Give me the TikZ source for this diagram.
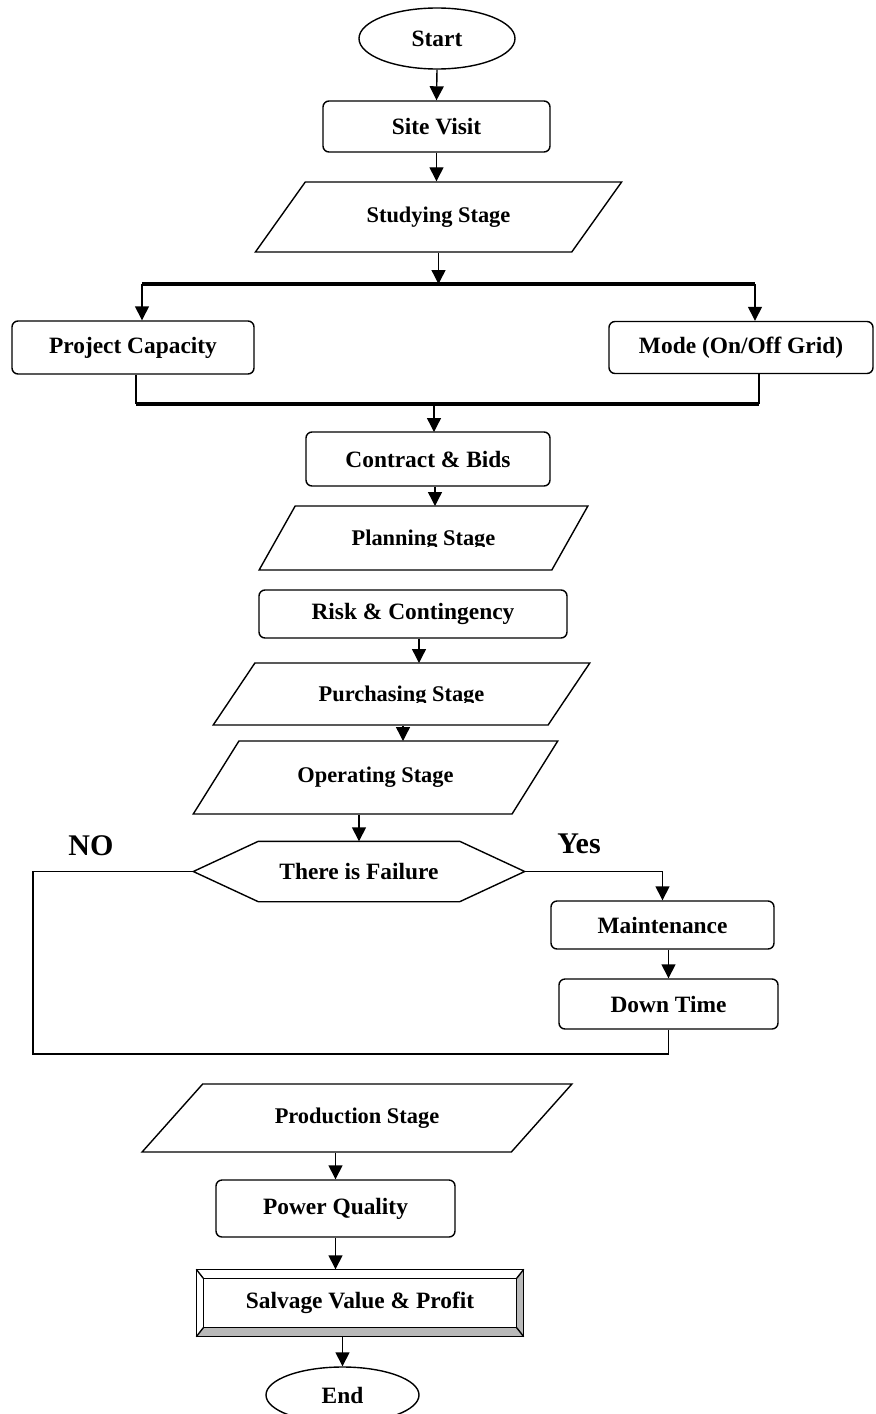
\documentclass[tikz,border=0pt]{standalone}
\usepackage{fontspec}
\setmainfont{Liberation Serif}
\usetikzlibrary{shapes.geometric,arrows.meta,calc}

\begin{document}
\begin{tikzpicture}[x=0.5pt, y=-0.5pt, line width=0.7pt,
  every node/.style={align=center, font=\bfseries\fontsize{11.2}{13}\selectfont}]
\tikzset{
  terminal/.style={ellipse, draw, minimum width=78pt, minimum height=30.5pt, inner sep=0pt,
    font=\bfseries\fontsize{11.7}{14}\selectfont},
  procbox/.style={rectangle, draw, rounded corners=3pt, inner sep=0pt,
    font=\bfseries\fontsize{11.7}{14}\selectfont},
  stagebox/.style={trapezium, draw, trapezium stretches=true, inner sep=0pt},
  decisionbox/.style={rectangle, inner sep=0pt, font=\bfseries\fontsize{11.7}{14}\selectfont},
  endbox/.style={rectangle, inner sep=0pt, font=\bfseries\fontsize{11.7}{14}\selectfont},
  answer/.style={font=\bfseries\fontsize{15}{17}\selectfont},
  flow/.style={-{Triangle[length=7pt,width=7pt]}},
  busline/.style={line width=1.6pt}
}
\useasboundingbox (0,0) rectangle (875,1414);

% main column
\node[terminal] (start) at (437,38.5) {Start};
\node[procbox, minimum width=113.5pt, minimum height=25.5pt] (site) at (436.5,126.5) {Site Visit};
\node[stagebox, trapezium left angle=37.3, trapezium right angle=142.7,
  minimum width=183.5pt, minimum height=35pt] (study) at (438.5,217) {Studying Stage};
\node[procbox, minimum width=121pt, minimum height=26.5pt] (cap) at (133,347.5) {Project Capacity};
\node[procbox, minimum width=132pt, minimum height=26pt] (mode) at (741,347.5) {Mode (On/Off Grid)};
\node[procbox, minimum width=122pt, minimum height=27pt] (contract) at (428,459) {Contract \& Bids};
\node[stagebox, trapezium left angle=37.6, trapezium right angle=142.4, text depth=0pt,
  minimum width=165.5pt, minimum height=32pt] (plan) at (423.5,538) {Planning Stage};
\node[procbox, minimum width=154pt, minimum height=24pt] (risk) at (413,614) {Risk \& Contingency};
\node[stagebox, trapezium left angle=33.4, trapezium right angle=146.6, text depth=0pt,
  minimum width=188.5pt, minimum height=31pt] (purch) at (401.5,694) {Purchasing Stage};
\node[stagebox, trapezium left angle=38.1, trapezium right angle=141.9,
  minimum width=182.5pt, minimum height=36.5pt] (oper) at (375.5,777.5) {Operating Stage};
\node[decisionbox, minimum width=165pt, minimum height=29.5pt] (fail) at (359,871.5) {There is Failure};
\node[procbox, minimum width=111.5pt, minimum height=24pt] (maint) at (662.5,925) {Maintenance};
\node[procbox, minimum width=109.5pt, minimum height=25pt] (down) at (668.5,1004) {Down Time};
\node[stagebox, trapezium left angle=32.4, trapezium right angle=147.6,
  minimum width=215pt, minimum height=34pt] (prod) at (357,1118) {Production Stage};
\node[procbox, minimum width=119.5pt, minimum height=28.5pt] (power) at (335.5,1208.5) {Power Quality};
\node[endbox, minimum width=163pt, minimum height=33pt] (salv) at (360,1303) {Salvage Value \& Profit};
\node[terminal, minimum width=76.5pt, minimum height=28pt] (end) at (342.5,1395) {End};

\node[answer] (no) at (91,846) {NO};
\node[answer] (yes) at (579,844) {Yes};

% hexagon round the decision
\draw (fail.west) -- ($(fail.north west)+(65,0)$) -- ($(fail.north east)+(-65,0)$)
  -- (fail.east) -- ($(fail.south east)+(-65,0)$) -- ($(fail.south west)+(65,0)$) -- cycle;

% cut-off text bottoms
\fill[white] ($(plan.text)+(-4,1.2)$) rectangle ($(plan.text)+(160,12)$);
\fill[white] ($(purch.text)+(-4,1.2)$) rectangle ($(purch.text)+(175,12)$);

% bevelled frame
\fill[gray!55] (salv.south west) -- (salv.south east) -- (salv.north east)
  -- ($(salv.north east)+(-7,9)$) -- ($(salv.south east)+(-7,-9)$)
  -- ($(salv.south west)+(7,-9)$) -- cycle;
\draw (salv.north west) rectangle (salv.south east);
\draw ($(salv.north west)+(7,9)$) rectangle ($(salv.south east)+(-7,-9)$);
\draw (salv.north west) -- ++(7,9);
\draw (salv.north east) -- ++(-7,9);
\draw (salv.south west) -- ++(7,-9);
\draw (salv.south east) -- ++(-7,-9);

% split and join
\coordinate (barL) at (142,284);
\coordinate (barR) at (755,284);
\coordinate (joinL) at (136,404);
\coordinate (joinR) at (759,404);
\coordinate (loopL) at (33,1054);

\draw[flow] (start.south) -- (site.north);
\draw[flow] (site.south) -- (site.south |- study.north);
\draw[flow] (study.south) -- (study.south |- barL);
\draw[busline] (barL) -- (barR);
\draw[flow] (barL) -- (barL |- cap.north);
\draw[flow] (barR) -- (barR |- mode.north);
\draw (cap.south -| joinL) -- (joinL);
\draw (mode.south -| joinR) -- (joinR);
\draw[busline] (joinL) -- (joinR);
\draw[flow] (434,404) -- (434,432);
\draw[flow] (contract.south -| 435,0) -- (435,506);
\draw[flow] (risk.south -| 419,0) -- (419,663);
\draw[flow] (purch.south -| 403,0) -- (403,741);
\draw[flow] (oper.south -| fail.north) -- (fail.north);
\draw[flow] (fail.east) -| (maint.north);
\draw[flow] (maint.south -| down.north) -- (down.north);
\draw (down.south) |- (loopL) |- (fail.west);
\draw[flow] (prod.south -| power.north) -- (power.north);
\draw[flow] (power.south) -- (power.south |- salv.north);
\draw[flow] (salv.south -| end.north) -- (end.north);
\end{tikzpicture}
\end{document}
